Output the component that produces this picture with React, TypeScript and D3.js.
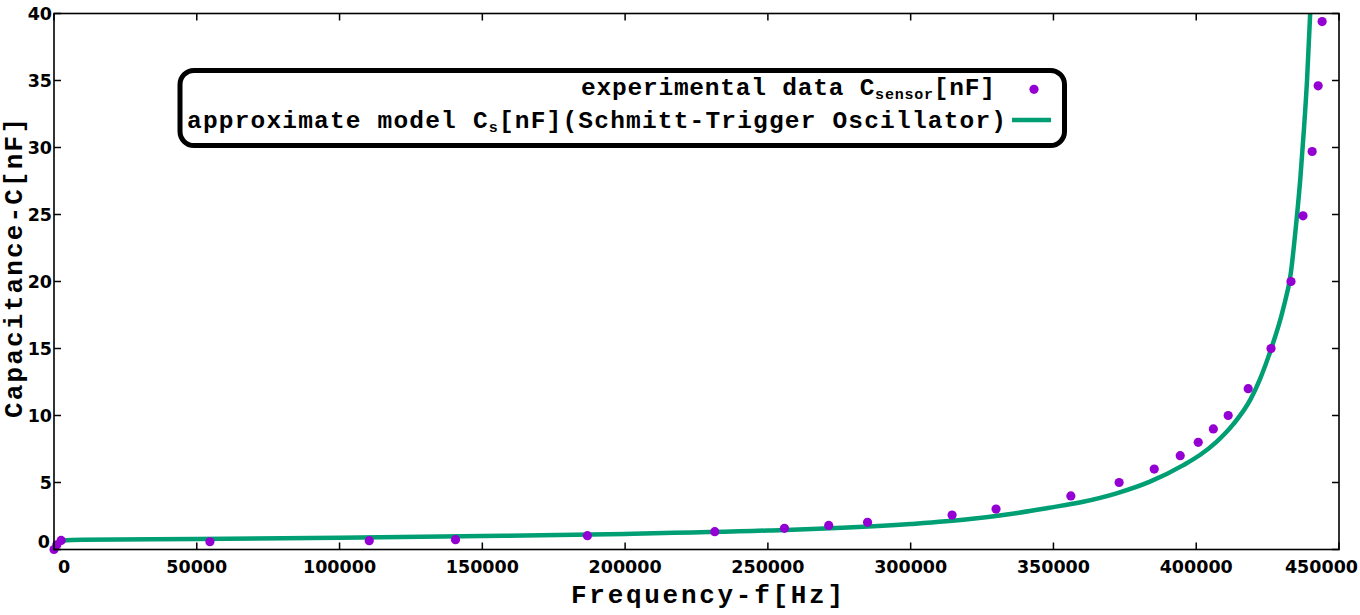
import React from "react";
import * as d3 from "d3";

// experimental data points
const expFreq = [0, 1000, 2500, 54600, 110400, 140600, 186800, 231400, 255800, 271300, 284900, 314500, 329900, 356100, 373000, 385300, 394400, 400700, 406000, 411200, 418200, 426200, 433200, 437400, 440600, 442700, 444100];
const expCap = [0.0, 0.35, 0.68, 0.58, 0.66, 0.73, 1.03, 1.33, 1.58, 1.8, 2.03, 2.57, 3.02, 4.0, 5.0, 6.0, 7.0, 8.0, 9.0, 10.0, 12.0, 15.0, 20.0, 24.9, 29.7, 34.6, 39.4];

// approximate model curve
const modelFreq = [0, 600, 1500, 3000, 10000, 50000, 100000, 150000, 200000, 250000, 300000, 320000, 335000, 348000, 360400, 372100, 383800, 395500, 401300, 407200, 413000, 419000, 422300, 426200, 430500, 433100, 435000, 436500, 437800, 438800, 439800, 440600];
const modelCap = [-0.3, 0.2, 0.5, 0.66, 0.72, 0.78, 0.88, 1.0, 1.16, 1.42, 1.9, 2.25, 2.65, 3.1, 3.56, 4.19, 5.06, 6.3, 7.05, 8.05, 9.35, 11.2, 12.7, 14.95, 18.0, 20.6, 24.3, 27.8, 31.6, 35.0, 39.5, 43.5];

const xTicks = [0, 50000, 100000, 150000, 200000, 250000, 300000, 350000, 400000, 450000];
const yTicks = [0, 5, 10, 15, 20, 25, 30, 35, 40];

const xTitle = "Frequency-f[Hz]";
const yTitle = "Capacitance-C[nF]";

const PURPLE = "#9400D3";
const GREEN = "#009E73";
const MONO = "'Liberation Mono', 'DejaVu Sans Mono', monospace";
const SANS = "'DejaVu Sans', Verdana, sans-serif";

export default function App() {
  const W = 1360, H = 615;
  const left = 54, right = 1339, top = 13.5, bottom = 549.5;
  const x = d3.scaleLinear().domain([0, 450000]).range([left, right]);
  const y = d3.scaleLinear().domain([0, 40]).range([bottom, top]);

  const modelPts: [number, number][] = modelFreq.map((f, i) => [f, modelCap[i]]);
  const line = d3
    .line<[number, number]>()
    .x((d) => x(d[0]))
    .y((d) => y(d[1]))
    .curve(d3.curveMonotoneX);

  const tickLen = 7;

  return (
    <svg
      width={W}
      height={H}
      style={{ position: "absolute", left: 0, top: 0, background: "#fff" }}
    >
      <defs>
        <clipPath id="plotclip">
          <rect x={left} y={top} width={right - left} height={bottom - top} />
        </clipPath>
      </defs>
      <rect x={0} y={0} width={W} height={H} fill="#fff" />

      {/* model curve */}
      <g clipPath="url(#plotclip)">
        <path d={line(modelPts) || ""} fill="none" stroke={GREEN} strokeWidth={4.5} strokeLinejoin="round" />
      </g>

      {/* experimental points */}
      <g>
        {expFreq.map((f, i) => (
          <circle key={i} cx={x(f)} cy={y(expCap[i])} r={4.6} fill={PURPLE} />
        ))}
      </g>

      {/* frame */}
      <rect x={left} y={top} width={right - left} height={bottom - top} fill="none" stroke="#000" strokeWidth={1.6} />

      {/* x ticks */}
      {xTicks.map((t, i) => {
        const px = x(t);
        let lx = px;
        let anchor: "middle" | "end" = "middle";
        if (i === 0) lx = px + 10;
        if (i === xTicks.length - 1) {
          lx = 1358;
          anchor = "end";
        }
        return (
          <g key={"x" + t}>
            <line x1={px} x2={px} y1={bottom} y2={bottom - tickLen} stroke="#000" strokeWidth={1.5} />
            <line x1={px} x2={px} y1={top} y2={top + tickLen} stroke="#000" strokeWidth={1.5} />
            <text x={lx} y={573} textAnchor={anchor} fontFamily={SANS} fontWeight="bold" fontSize={17.5} fill="#000">
              {String(t)}
            </text>
          </g>
        );
      })}

      {/* y ticks */}
      {yTicks.map((t, i) => {
        const py = y(t);
        const ly = i === 0 ? py - 8 : py;
        return (
          <g key={"y" + t}>
            <line x1={left} x2={left + tickLen} y1={py} y2={py} stroke="#000" strokeWidth={1.5} />
            <line x1={right} x2={right - tickLen} y1={py} y2={py} stroke="#000" strokeWidth={1.5} />
            <text x={i === 0 ? 50 : 52} y={ly + 6.3} textAnchor="end" fontFamily={SANS} fontWeight="bold" fontSize={17.5} fill="#000">
              {String(t)}
            </text>
          </g>
        );
      })}

      {/* axis titles */}
      <text x={571} y={603} fontFamily={MONO} fontWeight="bold" fontSize={26} textLength={272} lengthAdjust="spacing" fill="#000">
        {xTitle}
      </text>
      <text
        transform="translate(22,268) rotate(-90)"
        textAnchor="middle"
        fontFamily={MONO}
        fontWeight="bold"
        fontSize={26}
        fill="#000"
        textLength={300}
        lengthAdjust="spacing"
      >
        {yTitle}
      </text>

      {/* legend */}
      <rect x={180} y={70.5} width={884.5} height={75} rx={14} ry={14} fill="#fff" stroke="#000" strokeWidth={5} />
      <text x={581} y={95} fontFamily={MONO} fontWeight="bold" fontSize={24.5} fill="#000" textLength={414} lengthAdjust="spacing">
        experimental data C
        <tspan fontSize={15} dy={4}>sensor</tspan>
        <tspan dy={-4}>[nF]</tspan>
      </text>
      <circle cx={1034} cy={89.3} r={4.6} fill={PURPLE} />
      <text x={187} y={128.3} fontFamily={MONO} fontWeight="bold" fontSize={24.5} fill="#000" textLength={819} lengthAdjust="spacing">
        approximate model C
        <tspan fontSize={15} dy={4}>s</tspan>
        <tspan dy={-4}>[nF](Schmitt-Trigger Oscillator)</tspan>
      </text>
      <line x1={1012} x2={1051} y1={120} y2={120} stroke={GREEN} strokeWidth={4.5} />
    </svg>
  );
}
